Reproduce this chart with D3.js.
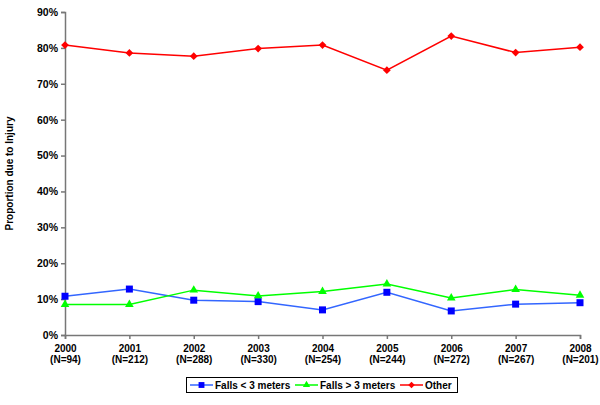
<!DOCTYPE html>
<html>
<head>
<meta charset="utf-8">
<script src="https://cdn.jsdelivr.net/npm/d3@7"></script>
<style>
body { margin: 0; background: #fff; }
text { font-family: Arial, "Liberation Sans", sans-serif; font-weight: bold; fill: #000; }
</style>
</head>
<body>
<svg width="600" height="405"></svg>
<script>
// data.........................................................................

var years = ["2000", "2001", "2002", "2003", "2004", "2005", "2006", "2007", "2008"],
	counts = ["N=94", "N=212", "N=288", "N=330", "N=254", "N=244", "N=272", "N=267", "N=201"],
	fallsLow = [10.8, 12.8, 9.7, 9.3, 7.0, 11.9, 6.7, 8.6, 9.0],
	fallsHigh = [8.5, 8.5, 12.5, 10.9, 12.1, 14.2, 10.3, 12.7, 11.1],
	other = [80.8, 78.6, 77.7, 79.8, 80.8, 73.8, 83.3, 78.7, 80.2],
	yTicks = [0, 10, 20, 30, 40, 50, 60, 70, 80, 90];

var series = [
	{name: "Falls < 3 meters", values: fallsLow, line: "#3366ff", fill: "#0000ff", shape: d3.symbolSquare, size: 49, rot: 0},
	{name: "Falls > 3 meters", values: fallsHigh, line: "#00ff00", fill: "#00ff00", shape: d3.symbolTriangle, size: 32, rot: 0},
	{name: "Other", values: other, line: "#ff0000", fill: "#ff0000", shape: d3.symbolSquare, size: 30, rot: 45}
];

// scales and axes..............................................................

var svg = d3.select("svg"),
	x = d3.scalePoint().domain(years).range([65, 580]),
	y = d3.scaleLinear().domain([0, 90]).range([335, 12]);

var yAxis = svg.append("g")
	.attr("transform", "translate(65,0)")
	.call(d3.axisLeft(y).tickValues(yTicks).tickSize(4).tickPadding(3)
		.tickFormat(function(d) { return d + "%"; }));

var xAxis = svg.append("g")
	.attr("transform", "translate(0,335)")
	.call(d3.axisBottom(x).tickSize(4).tickFormat(""));

svg.selectAll(".domain, .tick line").attr("stroke", "#777").attr("stroke-width", 1.5);
yAxis.selectAll("text").style("font-size", "10.5px");

// two-line category labels
xAxis.selectAll(".tick").each(function(d, i) {
	var t = d3.select(this).append("text")
		.attr("text-anchor", "middle")
		.style("font-size", "10px");
	t.append("tspan").attr("x", 0).attr("y", 17).text(d);
	t.append("tspan").attr("x", 0).attr("y", 28).text("(" + counts[i] + ")");
});

svg.append("text")
	.attr("transform", "translate(13," + y(45) + ") rotate(-90)")
	.attr("text-anchor", "middle")
	.style("font-size", "10px")
	.text("Proportion due to Injury");

// lines and markers............................................................

var line = d3.line()
	.x(function(d, i) { return x(years[i]); })
	.y(function(d) { return y(d); });

series.forEach(function(s) {
	svg.append("path")
		.datum(s.values)
		.attr("fill", "none")
		.attr("stroke", s.line)
		.attr("stroke-width", 1.5)
		.attr("d", line);

	svg.append("g").selectAll("path")
		.data(s.values)
		.enter().append("path")
			.attr("d", d3.symbol().type(s.shape).size(s.size))
			.attr("transform", function(d, i) {
				return "translate(" + x(years[i]) + "," + y(d) + ") rotate(" + s.rot + ")"; })
			.attr("fill", s.fill);
});

// legend.......................................................................

var legend = svg.append("g").attr("transform", "translate(186.5,377.5)");
legend.append("rect")
	.attr("width", 271).attr("height", 15)
	.attr("fill", "#fff").attr("stroke", "#000").attr("stroke-width", 1);

var legendX = [3.5, 108.5, 213.5];
series.forEach(function(s, i) {
	var g = legend.append("g").attr("transform", "translate(" + legendX[i] + ",7.5)");
	g.append("line").attr("x1", 0).attr("x2", 23)
		.attr("stroke", s.line).attr("stroke-width", 1.5);
	g.append("path")
		.attr("d", d3.symbol().type(s.shape).size(s.size * 0.7))
		.attr("transform", "translate(11.5,0) rotate(" + s.rot + ")")
		.attr("fill", s.fill);
	g.append("text").attr("x", 25).attr("y", 3.5)
		.style("font-size", "10px")
		.text(s.name);
});
</script>
</body>
</html>
